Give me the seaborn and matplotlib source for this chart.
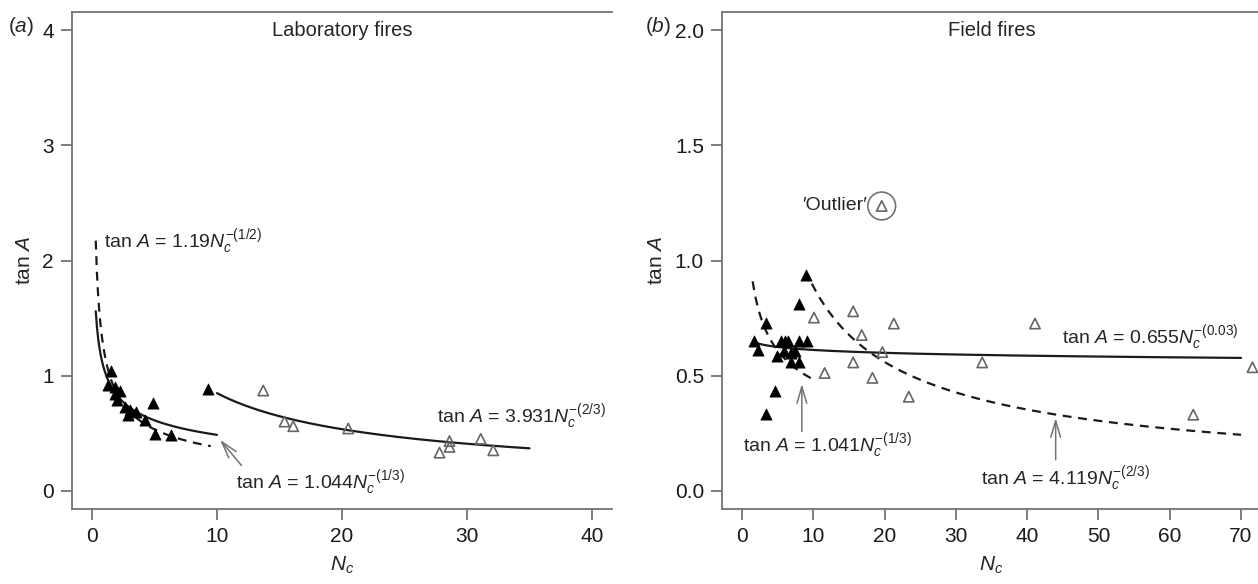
import numpy as np
import pandas as pd
import seaborn as sns
import matplotlib.pyplot as plt

# (a) laboratory fires: small (filled) and large (open) Nc
lab_small_nc = [1.5, 1.3, 1.8, 2.2, 2.0, 1.8, 2.6, 2.85, 3.0, 3.5, 4.2, 4.9, 5.0, 6.3, 9.3]
lab_small_tan = [1.04, 0.92, 0.90, 0.87, 0.79, 0.84, 0.73, 0.66, 0.70, 0.68, 0.61, 0.76, 0.49, 0.48, 0.88]
lab_large_nc = [13.7, 15.4, 16.1, 20.5, 27.8, 28.6, 28.6, 31.1, 32.1]
lab_large_tan = [0.87, 0.60, 0.56, 0.54, 0.33, 0.43, 0.38, 0.45, 0.35]

# (b) field fires
field_small_nc = [1.7, 2.3, 3.4, 3.4, 4.6, 4.9, 5.5, 6.0, 6.4, 5.9, 6.9, 6.9, 7.4, 8.0, 8.0, 9.1, 8.0, 9.0]
field_small_tan = [0.648, 0.609, 0.729, 0.332, 0.433, 0.583, 0.648, 0.648, 0.648, 0.605, 0.597, 0.56,
                   0.605, 0.648, 0.56, 0.648, 0.81, 0.935]
field_large_nc = [10.1, 15.6, 16.8, 21.3, 11.6, 15.6, 18.3, 19.7, 23.4, 33.7, 41.1, 63.3, 71.6]
field_large_tan = [0.752, 0.779, 0.676, 0.726, 0.511, 0.557, 0.49, 0.602, 0.408, 0.557, 0.726, 0.33, 0.536]
outlier_nc = [19.6]
outlier_tan = [1.237]

# fitted power laws tan A = k * Nc^-(p), as printed on the chart
lab_fit_k = [1.19, 1.044, 3.931]
lab_fit_p = [1 / 2, 1 / 3, 2 / 3]
lab_fit_from = [0.3, 0.3, 10.0]
lab_fit_to = [9.5, 10.0, 35.0]
lab_fit_dash = [True, False, False]

field_fit_k = [0.655, 1.041, 4.119]
field_fit_p = [0.03, 1 / 3, 2 / 3]
field_fit_from = [1.5, 1.5, 9.8]
field_fit_to = [70.0, 10.0, 70.0]
field_fit_dash = [False, True, True]

sns.set_style('ticks')
plt.rcParams['font.family'] = ['Liberation Sans', 'DejaVu Sans']
plt.rcParams['mathtext.fontset'] = 'custom'
plt.rcParams['mathtext.rm'] = 'Liberation Sans'
plt.rcParams['mathtext.it'] = 'Liberation Sans:italic'
plt.rcParams['mathtext.sf'] = 'Liberation Sans'

GREY = '0.45'
EQ_SIZE = 14

fig = plt.figure(figsize=(12.58, 5.84), dpi=100)
ax_a = fig.add_axes([72 / 1258, 75 / 584, 540 / 1258, 497 / 584])
ax_b = fig.add_axes([722 / 1258, 75 / 584, 539 / 1258, 497 / 584])


def draw_fits(ax, ks, ps, x0s, x1s, dashes):
    for k, p, x0, x1, d in zip(ks, ps, x0s, x1s, dashes):
        xs = np.linspace(x0, x1, 200)
        sns.lineplot(x=xs, y=k * xs ** (-p), ax=ax, color='0.1', lw=1.6,
                     linestyle=(0, (4, 3)) if d else '-', estimator=None)


def style_axes(ax, xlim, ylim, xticks, yticks, yfmt):
    ax.set_xlim(*xlim)
    ax.set_ylim(*ylim)
    ax.set_xticks(xticks)
    ax.set_yticks(yticks)
    ax.set_yticklabels([yfmt.format(v) for v in yticks])
    for s in ['left', 'bottom', 'top']:
        ax.spines[s].set_color(GREY)
        ax.spines[s].set_linewidth(1.3)
    ax.spines['right'].set_visible(False)
    ax.tick_params(length=8, width=1.3, color=GREY, labelsize=15, pad=5, labelcolor='0.1')
    ax.set_xlabel(r'$N_c$', fontsize=15, labelpad=6)
    ax.set_ylabel(r'tan $\mathit{A}$', fontsize=15, labelpad=6)


# panel (a)
draw_fits(ax_a, lab_fit_k, lab_fit_p, lab_fit_from, lab_fit_to, lab_fit_dash)
sns.scatterplot(x=lab_small_nc, y=lab_small_tan, ax=ax_a, marker='^', s=65,
                color='black', edgecolor='black', linewidth=0.5, zorder=3)
sns.scatterplot(x=lab_large_nc, y=lab_large_tan, ax=ax_a, marker='^', s=55,
                facecolors='none', edgecolor='0.4', linewidth=1.2, zorder=3)
style_axes(ax_a, (-1.6, 41.6), (-0.16, 4.16), [0, 10, 20, 30, 40], [0, 1, 2, 3, 4], '{:d}')
ax_a.text(20, 4.0, 'Laboratory fires', ha='center', va='center', fontsize=14.5)
ax_a.text(1.0, 2.16, r'tan $\mathit{A}$ = 1.19$N_c^{-(1/2)}$', fontsize=EQ_SIZE, va='center')
ax_a.text(11.5, 0.06, r'tan $\mathit{A}$ = 1.044$N_c^{-(1/3)}$', fontsize=EQ_SIZE, va='center')
ax_a.text(27.6, 0.64, r'tan $\mathit{A}$ = 3.931$N_c^{-(2/3)}$', fontsize=EQ_SIZE, va='center')
ax_a.annotate('', xy=(10.1, 0.46), xytext=(12.1, 0.2),
              arrowprops=dict(arrowstyle='->,head_length=1.2,head_width=0.35', color=GREY, lw=1.1))

# panel (b)
draw_fits(ax_b, field_fit_k, field_fit_p, field_fit_from, field_fit_to, field_fit_dash)
sns.scatterplot(x=field_small_nc, y=field_small_tan, ax=ax_b, marker='^', s=65,
                color='black', edgecolor='black', linewidth=0.5, zorder=3)
sns.scatterplot(x=field_large_nc + outlier_nc, y=field_large_tan + outlier_tan, ax=ax_b,
                marker='^', s=55, facecolors='none', edgecolor='0.4', linewidth=1.2, zorder=3)
sns.scatterplot(x=outlier_nc, y=outlier_tan, ax=ax_b, marker='o', s=400,
                facecolors='none', edgecolor='0.45', linewidth=1.2, zorder=3)
style_axes(ax_b, (-2.8, 72.8), (-0.08, 2.08), [0, 10, 20, 30, 40, 50, 60, 70],
           [0.0, 0.5, 1.0, 1.5, 2.0], '{:.1f}')
ax_b.text(35, 2.0, 'Field fires', ha='center', va='center', fontsize=14.5)
ax_b.text(17.5, 1.237, '\u2032Outlier\u2032', ha='right', va='center', fontsize=EQ_SIZE)
ax_b.text(44.9, 0.66, r'tan $\mathit{A}$ = 0.655$N_c^{-(0.03)}$', fontsize=EQ_SIZE, va='center')
ax_b.text(0.1, 0.19, r'tan $\mathit{A}$ = 1.041$N_c^{-(1/3)}$', fontsize=EQ_SIZE, va='center')
ax_b.text(33.5, 0.05, r'tan $\mathit{A}$ = 4.119$N_c^{-(2/3)}$', fontsize=EQ_SIZE, va='center')
ax_b.annotate('', xy=(8.4, 0.476), xytext=(8.4, 0.245),
              arrowprops=dict(arrowstyle='->,head_length=1.2,head_width=0.35', color=GREY, lw=1.1))
ax_b.annotate('', xy=(44.0, 0.328), xytext=(44.0, 0.122),
              arrowprops=dict(arrowstyle='->,head_length=1.2,head_width=0.35', color=GREY, lw=1.1))

fig.text(8 / 1258, 1 - 27 / 584, r'($\mathit{a}$)', fontsize=15, va='center')
fig.text(645 / 1258, 1 - 27 / 584, r'($\mathit{b}$)', fontsize=15, va='center')

fig.savefig('out.png', dpi=100)
